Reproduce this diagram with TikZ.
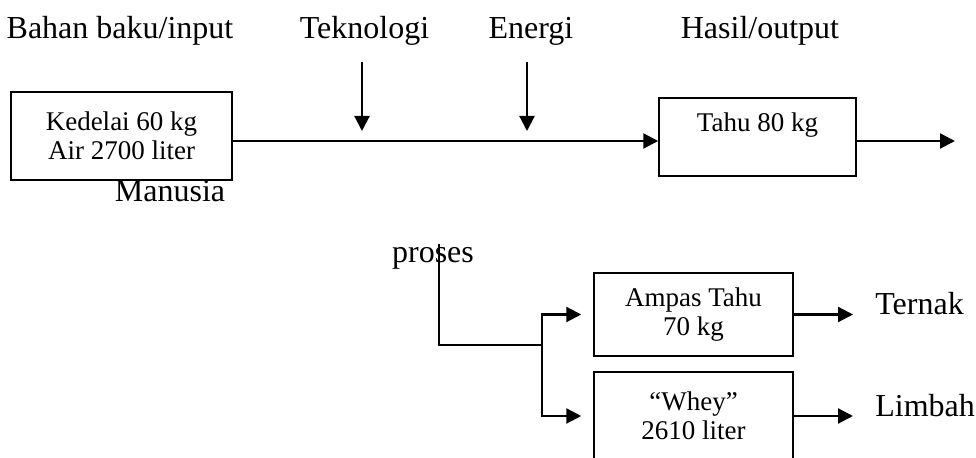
\documentclass[tikz,border=0pt]{standalone}
\usepackage{fontspec}
\setmainfont{Liberation Serif}
\usetikzlibrary{arrows.meta}

\tikzset{
  box/.style={draw,line width=0.75pt,align=center,inner sep=0pt,
    font=\fontsize{13.5}{14.5}\selectfont},
  lbl/.style={inner sep=0pt,font=\fontsize{16}{18}\selectfont},
  flow/.style={line width=1.1pt},
  arr/.style={flow,-{Triangle[length=7.5pt,width=7.5pt]}},
}

\begin{document}
\begin{tikzpicture}[x=0.5pt,y=-0.5pt]
  \useasboundingbox (0,0) rectangle (976,458);
  % labels along the top
  \foreach \n/\x/\t in {bahan/120/{Bahan baku/input}, tekno/364.5/Teknologi,
                        energi/531/Energi, hasil/760/{Hasil/output}}
    \node[lbl,anchor=base] (\n) at (\x,38.5) {\t};
  % input and output boxes
  \node[box,minimum width=110.5pt,minimum height=44pt] (kedelai) at (121.5,136)
    {Kedelai 60 kg\\Air 2700 liter};
  \node[box,minimum width=98.5pt,minimum height=39pt] (tahu) at (757.5,137)
    {Tahu 80 kg\\\mbox{}};
  \node[lbl,anchor=base] (manusia) at (170,202) {Manusia};
  % main line
  \coordinate (main0) at (232,141);
  \coordinate (out) at (955,141);
  \draw[arr] (main0) -- (main0 -| tahu.west);
  \draw[arr] (tahu.east |- out) -- (out);
  % technology and energy going in
  \foreach \n/\x in {tek/362, ener/527} {
    \coordinate (\n0) at (\x,62);
    \coordinate (\n1) at (\x,131);
    \draw[arr] (\n0) -- (\n1);
  }
  % by-products of the process
  \node[lbl,anchor=base] (proses) at (433,263) {proses};
  \node[box,minimum width=99.5pt,minimum height=41.5pt] (ampas) at (693.5,314.5)
    {Ampas Tahu\\70 kg};
  \node[box,minimum width=99.5pt,minimum height=44pt] (whey) at (693.5,416)
    {“Whey”\\2610 liter};
  \node[lbl,anchor=base west] (ternak) at (875,315) {Ternak};
  \node[lbl,anchor=base west] (limbah) at (875,417) {Limbah};
  \coordinate (p0) at (439,244);
  \coordinate (split) at (542,345);
  \draw[flow] (p0) |- (split);
  \draw[arr,shorten >=6pt] (split) |- (ampas.west);
  \draw[arr,shorten >=6pt] (split) |- (whey.west);
  \draw[arr,shorten >=11pt] (ampas.east) -- (ampas.east -| ternak.west);
  \draw[arr,shorten >=11pt] (whey.east) -- (whey.east -| limbah.west);
\end{tikzpicture}
\end{document}
